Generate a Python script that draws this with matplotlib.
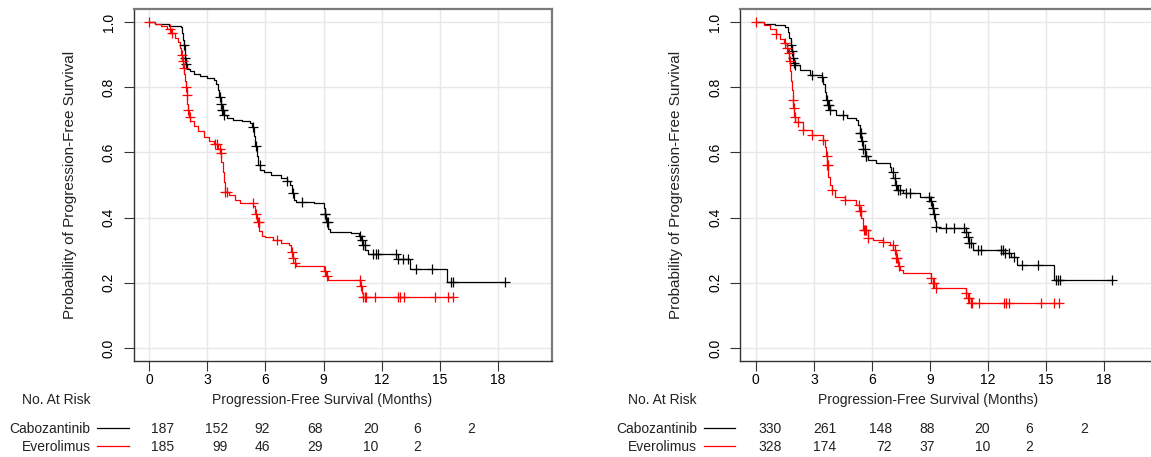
import numpy as np
import matplotlib
matplotlib.use("Agg")
import matplotlib.pyplot as plt
from matplotlib.lines import Line2D
from matplotlib.transforms import blended_transform_factory

plt.rcParams['font.family'] = ['Liberation Sans', 'DejaVu Sans']

# ---- left panel: Kaplan-Meier step values (months, survival) ----
cabo_l_t = [0, 0.3, 1.0, 1.63, 1.68, 1.73, 1.77, 1.82, 1.86, 1.9,
            1.95, 2.1, 2.3, 2.6, 3.0, 3.35, 3.45, 3.55, 3.62, 3.68,
            3.75, 3.83, 4.0, 4.3, 4.8, 5.2, 5.3, 5.4, 5.48, 5.55,
            5.62, 5.7, 5.9, 6.3, 6.8, 7.1, 7.25, 7.35, 7.45, 7.6,
            8.5, 9.0, 9.07, 9.15, 9.25, 9.33, 10.4, 10.85, 10.95, 11.05,
            11.15, 11.3, 12.85, 13.45, 15.38]
cabo_l_s = [1.0, 0.994, 0.989, 0.985, 0.965, 0.945, 0.93, 0.91, 0.89, 0.872,
            0.857, 0.85, 0.842, 0.834, 0.829, 0.821, 0.81, 0.79, 0.77, 0.75,
            0.73, 0.714, 0.706, 0.70, 0.697, 0.69, 0.678, 0.65, 0.62, 0.59,
            0.56, 0.546, 0.54, 0.53, 0.52, 0.512, 0.5, 0.475, 0.455, 0.448,
            0.444, 0.43, 0.41, 0.385, 0.365, 0.357, 0.352, 0.345, 0.33, 0.315,
            0.301, 0.289, 0.273, 0.242, 0.202]
cabo_l_cens = [1.77, 1.86, 1.9, 3.63, 3.72, 3.75, 3.78, 3.83, 5.34, 5.52,
               5.69, 7.1, 7.44, 7.87, 9.07, 9.1, 9.16, 9.24, 10.9, 10.98,
               11.05, 11.14, 11.56, 11.7, 11.82, 12.77, 12.85, 13.11, 13.37,
               13.8, 14.62, 15.6, 15.72, 18.39]

ever_l_t = [0, 0.3, 0.6, 0.9, 1.1, 1.3, 1.5, 1.6, 1.65, 1.7,
            1.75, 1.8, 1.85, 1.88, 1.92, 1.96, 2.0, 2.05, 2.1, 2.3,
            2.5, 2.8, 3.1, 3.35, 3.55, 3.65, 3.72, 3.78, 3.85, 3.92,
            4.1, 4.4, 4.7, 5.35, 5.45, 5.55, 5.65, 5.8, 6.0, 6.4,
            6.8, 7.2, 7.3, 7.4, 7.5, 7.6, 9.05, 9.15, 9.24, 10.9,
            11.0, 11.05]
ever_l_s = [1.0, 0.995, 0.988, 0.98, 0.965, 0.95, 0.94, 0.92, 0.9, 0.88,
            0.86, 0.84, 0.82, 0.8, 0.775, 0.75, 0.729, 0.71, 0.695, 0.68,
            0.665, 0.648, 0.635, 0.625, 0.61, 0.597, 0.57, 0.54, 0.51, 0.48,
            0.47, 0.455, 0.444, 0.435, 0.41, 0.385, 0.36, 0.345, 0.34, 0.33,
            0.322, 0.316, 0.295, 0.275, 0.26, 0.25, 0.235, 0.22, 0.209, 0.19,
            0.17, 0.156]
ever_l_cens = [0, 1.08, 1.17, 1.68, 1.73, 1.77, 1.91, 1.94, 2.0, 2.08,
               3.4, 3.5, 3.63, 3.71, 3.92, 4.0, 5.34, 5.5, 5.6, 5.64,
               6.58, 7.35, 7.43, 7.52, 9.07, 9.16, 10.88, 10.95, 11.05, 11.14,
               11.22, 11.65, 12.85, 12.94, 13.14, 14.74, 15.43, 15.72]

# ---- right panel ----
cabo_r_t = [0, 0.4, 1.0, 1.5, 1.65, 1.72, 1.8, 1.86, 1.92, 1.98,
            2.03, 2.28, 2.8, 3.4, 3.5, 3.58, 3.65, 3.72, 3.83, 4.17,
            4.7, 5.2, 5.3, 5.38, 5.46, 5.55, 5.65, 5.8, 6.24, 6.92,
            7.0, 7.1, 7.2, 7.3, 7.6, 8.47, 9.02, 9.1, 9.18, 9.25,
            9.33, 9.45, 10.85, 10.95, 11.05, 11.22, 12.8, 13.2, 13.5, 15.43]
cabo_r_s = [1.0, 0.995, 0.99, 0.985, 0.97, 0.95, 0.93, 0.91, 0.89, 0.875,
            0.867, 0.852, 0.837, 0.831, 0.81, 0.785, 0.76, 0.745, 0.729, 0.714,
            0.705, 0.699, 0.684, 0.66, 0.635, 0.61, 0.59, 0.576, 0.566, 0.556,
            0.54, 0.52, 0.5, 0.485, 0.474, 0.464, 0.45, 0.43, 0.41, 0.39,
            0.372, 0.367, 0.355, 0.34, 0.321, 0.301, 0.29, 0.28, 0.255, 0.209]
cabo_r_cens = [1.82, 1.88, 1.94, 1.98, 2.03, 2.89, 3.4, 3.66, 3.72, 3.78,
               3.83, 4.52, 5.38, 5.43, 5.5, 5.56, 5.64, 5.68, 5.72, 7.09,
               7.18, 7.27, 7.35, 7.44, 7.78, 7.95, 8.98, 9.07, 9.15, 9.24,
               9.33, 9.84, 10.27, 10.79, 10.87, 10.96, 11.05, 11.13, 11.47, 11.65,
               12.68, 12.76, 12.9, 13.1, 13.37, 13.76, 14.62, 15.55, 15.65, 15.74,
               18.4]

ever_r_t = [0, 0.4, 0.74, 1.05, 1.25, 1.45, 1.6, 1.68, 1.74, 1.78,
            1.82, 1.86, 1.9, 1.95, 2.0, 2.05, 2.45, 2.89, 3.49, 3.57,
            3.63, 3.7, 3.76, 3.85, 3.92, 4.09, 4.6, 5.2, 5.35, 5.45,
            5.55, 5.8, 6.06, 6.58, 6.92, 7.1, 7.25, 7.38, 7.44, 7.6,
            9.05, 9.15, 9.33, 10.85, 10.95, 11.13]
ever_r_s = [1.0, 0.99, 0.98, 0.964, 0.949, 0.935, 0.92, 0.905, 0.88, 0.85,
            0.82, 0.79, 0.76, 0.735, 0.71, 0.694, 0.668, 0.653, 0.638, 0.617,
            0.59, 0.56, 0.525, 0.5, 0.485, 0.464, 0.454, 0.439, 0.42, 0.4,
            0.362, 0.337, 0.332, 0.326, 0.316, 0.3, 0.275, 0.25, 0.24, 0.23,
            0.215, 0.2, 0.184, 0.168, 0.152, 0.138]
ever_r_cens = [0, 1.05, 1.51, 1.6, 1.72, 1.76, 1.94, 1.97, 2.03, 2.18,
               2.45, 2.89, 3.49, 3.66, 3.7, 3.73, 3.92, 4.6, 5.34, 5.39,
               5.43, 5.58, 5.65, 5.72, 5.8, 6.58, 7.09, 7.18, 7.27, 7.3,
               7.4, 9.07, 9.15, 9.24, 9.33, 10.87, 10.96, 11.05, 11.13, 11.2,
               11.56, 12.85, 12.94, 13.11, 14.74, 15.43, 15.69]

# ---- numbers at risk ----
arms = ["Cabozantinib", "Everolimus"]
risk_cabo_l = ["187", "152", "92", "68", "20", "6", "2"]
risk_ever_l = ["185", "99", "46", "29", "10", "2"]
risk_cabo_r = ["330", "261", "148", "88", "20", "6", "2"]
risk_ever_r = ["328", "174", "72", "37", "10", "2"]

x_ticks = [0, 3, 6, 9, 12, 15, 18]
y_ticks = [0.0, 0.2, 0.4, 0.6, 0.8, 1.0]

W, H = 1151, 457
fig = plt.figure(figsize=(W / 100, H / 100), dpi=100)
FS = 10


def draw_curve(ax, t, s, cens, color):
    t = np.asarray(t)
    s = np.asarray(s)
    cens = np.asarray(cens)
    end = max(t[-1], cens.max())
    tt = np.append(t, end)
    ss = np.append(s, s[-1])
    ax.step(tt, ss, where='post', color=color, lw=0.9, zorder=3)
    idx = np.searchsorted(t, cens, side='right') - 1
    ax.plot(cens, s[idx], ls='none', marker='+', ms=7, mew=0.9,
            color=color, zorder=4)


def panel(left_px, curves, risk, risk_cols):
    ax = fig.add_axes([left_px / W, (H - 361) / H, 417.7 / W, 352 / H])
    ax.set_xlim(-0.8, 20.8)
    ax.set_ylim(-0.04, 1.04)
    ax.set_xticks(x_ticks)
    ax.set_yticks(y_ticks)
    ax.set_xticklabels([str(v) for v in x_ticks])
    ax.set_yticklabels([f"{v:.1f}" for v in y_ticks], rotation=90, va='center')
    ax.grid(True, color='#e8e8e8', lw=1.0, zorder=0)
    ax.set_axisbelow(True)
    ax.tick_params(axis='x', direction='out', length=7, width=0.8,
                   color='#333333', labelsize=FS, pad=1.5)
    ax.tick_params(axis='y', direction='out', length=7, width=0.8,
                   color='#333333', labelsize=FS, pad=6)
    for side in ('left', 'bottom'):
        ax.spines[side].set_color('#333333')
        ax.spines[side].set_linewidth(1.0)
    for side in ('top', 'right'):
        ax.spines[side].set_color('#7a7a7a')
        ax.spines[side].set_linewidth(1.6)

    for t, s, cens, color in curves:
        draw_curve(ax, t, s, cens, color)

    ax.text(-64 / 417.7, 0.5, "Probability of Progression-Free Survival",
            transform=ax.transAxes, rotation=90, ha='center', va='center',
            fontsize=11, color='#222222')

    trans = blended_transform_factory(ax.transData, fig.transFigure)
    ax.text(8.9, 1 - 404 / H, "Progression-Free Survival (Months)",
            transform=trans, ha='center', va='baseline', fontsize=FS,
            color='#222222')
    fig.text((left_px - 78) / W, 1 - 404 / H, "No. At Risk", ha='center',
             va='baseline', fontsize=FS, color='#222222')

    row_base = [432.7, 450.7]
    row_line = [427.7, 446.0]
    colors = ['black', 'red']
    for k, arm in enumerate(arms):
        fig.text((left_px - 43.3) / W, 1 - row_base[k] / H, arm, ha='right',
                 va='baseline', fontsize=FS, color='#222222')
        fig.add_artist(Line2D([(left_px - 36.7) / W, (left_px - 5) / W],
                              [1 - row_line[k] / H] * 2, color=colors[k],
                              lw=0.9, transform=fig.transFigure))
        for j, val in enumerate(risk[k]):
            ax.text(risk_cols[j], 1 - row_base[k] / H, val, transform=trans,
                    ha='right', va='baseline', fontsize=FS, color='#222222',
                    clip_on=False)
    return ax


panel(134, [(cabo_l_t, cabo_l_s, cabo_l_cens, 'black'),
            (ever_l_t, ever_l_s, ever_l_cens, 'red')],
      [risk_cabo_l, risk_ever_l],
      [1.25, 4.06, 6.24, 8.98, 11.86, 14.06, 16.86])

panel(740.3, [(cabo_r_t, cabo_r_s, cabo_r_cens, 'black'),
              (ever_r_t, ever_r_s, ever_r_cens, 'red')],
      [risk_cabo_r, risk_ever_r],
      [1.34, 4.18, 7.04, 9.28, 12.11, 14.36, 17.18])

fig.savefig("out.png", dpi=100)
